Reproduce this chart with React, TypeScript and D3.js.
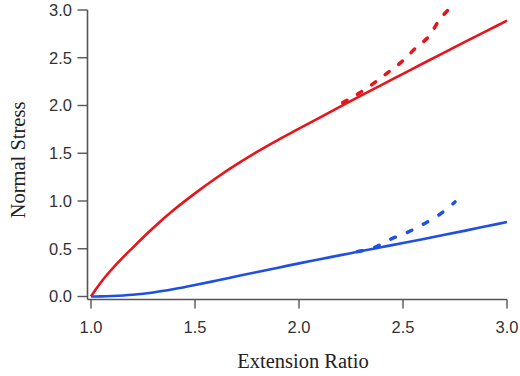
import { useEffect, useRef } from 'react'
import * as d3 from 'd3'

// Values
const ratios = [1.0, 1.02, 1.05, 1.1, 1.2, 1.3, 1.4, 1.5, 1.6, 1.7, 1.8, 1.9, 2.0, 2.1, 2.2, 2.3, 2.4, 2.5, 2.6, 2.7, 2.8, 2.9, 3.0]
const redSolid = [0, 0.065, 0.155, 0.285, 0.51, 0.72, 0.91, 1.08, 1.238, 1.383, 1.516, 1.64, 1.757, 1.874, 1.99, 2.105, 2.219, 2.332, 2.445, 2.557, 2.668, 2.778, 2.888]
const blueSolid = [0, 0.0003, 0.0012, 0.005, 0.018, 0.042, 0.078, 0.12, 0.165, 0.211, 0.257, 0.302, 0.347, 0.39, 0.433, 0.476, 0.518, 0.56, 0.603, 0.646, 0.69, 0.735, 0.78]

const redDashX = [2.21, 2.29, 2.37, 2.43, 2.5, 2.56, 2.63, 2.67, 2.73]
const redDashY = [2.03, 2.13, 2.25, 2.35, 2.47, 2.6, 2.74, 2.88, 3.03]
const blueDashX = [2.28, 2.37, 2.43, 2.52, 2.6, 2.67, 2.75]
const blueDashY = [0.47, 0.52, 0.59, 0.67, 0.76, 0.85, 0.99]

const xTicks = [1.0, 1.5, 2.0, 2.5, 3.0]
const yTicks = [0, 0.5, 1.0, 1.5, 2.0, 2.5, 3.0]

const RED = '#e8141c'
const BLUE = '#1f4fe3'

export default function App() {
  const svgRef = useRef<SVGSVGElement>(null)

  useEffect(() => {
    if (!svgRef.current) return
    const svg = d3.select(svgRef.current)
    svg.selectAll('*').remove()

    const x = d3.scaleLinear().domain([1, 3]).range([91, 507])
    const y = d3.scaleLinear().domain([0, 3]).range([296.5, 10])

    const axisX = 87.5
    const axisY = 299.5
    const axisColor = '#555'

    // axes
    svg.append('line')
      .attr('x1', axisX).attr('x2', axisX)
      .attr('y1', y(3)).attr('y2', axisY)
      .attr('stroke', axisColor).attr('stroke-width', 1.6)
    svg.append('line')
      .attr('x1', axisX).attr('x2', x(3))
      .attr('y1', axisY).attr('y2', axisY)
      .attr('stroke', axisColor).attr('stroke-width', 1.6)

    yTicks.forEach(t => {
      svg.append('line')
        .attr('x1', axisX - 10).attr('x2', axisX)
        .attr('y1', y(t)).attr('y2', y(t))
        .attr('stroke', axisColor).attr('stroke-width', 1.4)
      svg.append('text')
        .attr('x', 72).attr('y', y(t))
        .attr('dy', '0.36em')
        .attr('text-anchor', 'end')
        .attr('font-family', 'Liberation Sans, Arial, sans-serif')
        .attr('font-size', 16.5)
        .attr('fill', '#333')
        .text(d3.format('.1f')(t))
    })

    xTicks.forEach(t => {
      svg.append('line')
        .attr('x1', x(t)).attr('x2', x(t))
        .attr('y1', axisY).attr('y2', axisY + 9)
        .attr('stroke', axisColor).attr('stroke-width', 1.4)
      svg.append('text')
        .attr('x', x(t)).attr('y', 333)
        .attr('text-anchor', 'middle')
        .attr('font-family', 'Liberation Sans, Arial, sans-serif')
        .attr('font-size', 16.5)
        .attr('fill', '#333')
        .text(d3.format('.1f')(t))
    })

    // titles
    svg.append('text')
      .attr('x', 303).attr('y', 368)
      .attr('text-anchor', 'middle')
      .attr('font-family', 'Liberation Serif, Times New Roman, serif')
      .attr('font-size', 20.5)
      .attr('fill', '#222')
      .text('Extension Ratio')
    svg.append('text')
      .attr('transform', 'translate(25,160) rotate(-90)')
      .attr('text-anchor', 'middle')
      .attr('font-family', 'Liberation Serif, Times New Roman, serif')
      .attr('font-size', 20.5)
      .attr('fill', '#222')
      .text('Normal Stress')

    const smooth = d3.line<[number, number]>()
      .x(d => x(d[0]))
      .y(d => y(d[1]))
      .curve(d3.curveMonotoneX)

    const series = [
      { xs: ratios, ys: redSolid, color: RED, dash: null },
      { xs: ratios, ys: blueSolid, color: BLUE, dash: null },
      { xs: redDashX, ys: redDashY, color: RED, dash: '5 12' },
      { xs: blueDashX, ys: blueDashY, color: BLUE, dash: '5 13' },
    ]

    series.forEach(s => {
      const pts = s.xs.map((v, i) => [v, s.ys[i]] as [number, number])
      const p = svg.append('path')
        .attr('d', smooth(pts))
        .attr('fill', 'none')
        .attr('stroke', s.color)
        .attr('stroke-width', s.dash ? 3.5 : 2.6)
      if (s.dash) p.attr('stroke-dasharray', s.dash).attr('stroke-linecap', 'round')
    })
  }, [])

  return (
    <svg
      ref={svgRef}
      width={520}
      height={376}
      style={{ position: 'absolute', left: 0, top: 0, background: '#fff' }}
    />
  )
}
